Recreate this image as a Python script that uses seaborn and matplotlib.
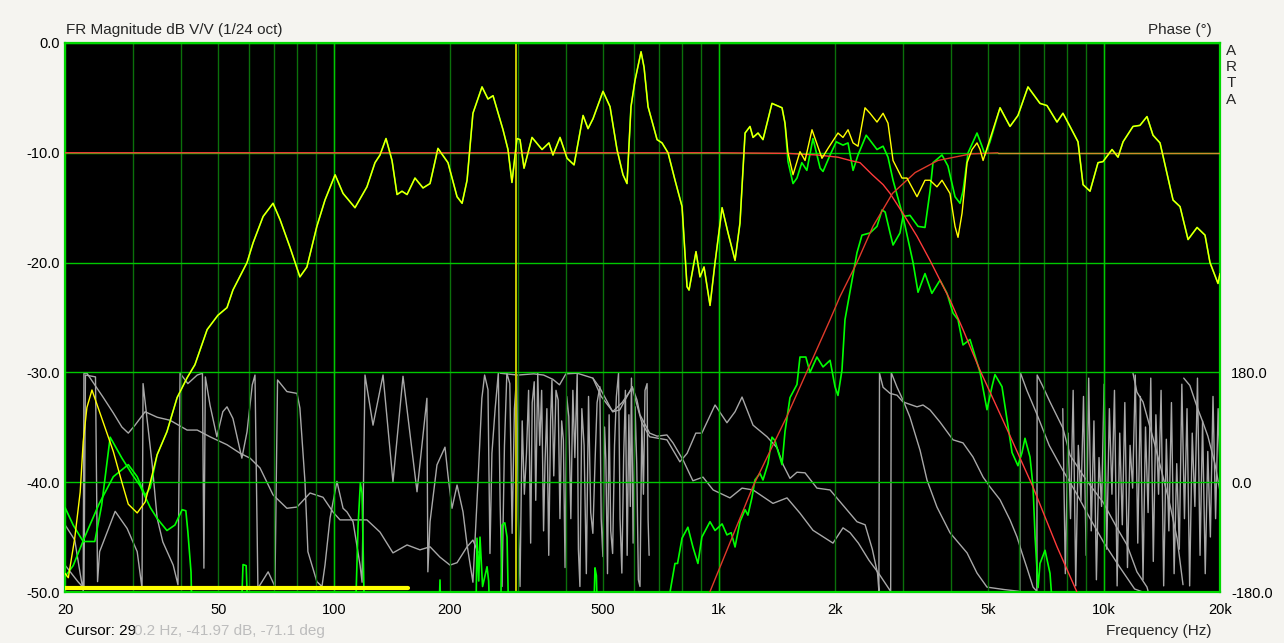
import numpy as np
import matplotlib
matplotlib.use('Agg')  # no display
import matplotlib.pyplot as plt
from matplotlib.ticker import LogLocator, NullFormatter
import seaborn as sns

sns.set_style('dark')
plt.rcParams['font.family'] = ['Liberation Sans', 'DejaVu Sans']

# ---- magnitude data (dB) ----
# summed response (yellow)
fr_freq = [20, 20.4, 21.2, 21.9, 22.3, 22.8, 23.5, 25.1, 26.7, 28.1,
           29.2, 30.8, 32.3, 33.3, 34.7, 36.8, 39.1, 41.5, 43.5, 46.8,
           49.9, 52.7, 54.6, 59.4, 61.6, 65.4, 69.4, 72.4, 76.8, 81.5,
           85.0, 90.2, 94.7, 100.6, 105.5, 113.3, 121.7, 127.7, 131.6, 136.4,
           141.4, 145.7, 150.1, 154.7, 162.2, 170.2, 177.5, 186.1, 197.6, 208.6,
           215, 221.5, 229.4, 242.2, 251, 258.7, 274.6, 282.9, 289.7, 298.5,
           304, 311.4, 326.6, 346.8, 361.4, 370.2, 386.2, 402.8, 420, 443.3,
           456.6, 470.4, 499.4, 520.8, 543, 562.8, 576.5, 590.4, 604.8, 627,
           638.3, 653.8, 690, 710.9, 736.8, 768.3, 801.3, 825.5, 835.4, 871,
           892, 913.8, 947.2, 976, 1018, 1055, 1100, 1133, 1168, 1203,
           1225, 1262, 1300, 1372, 1457, 1483, 1510, 1556, 1622, 1672,
           1743, 1850, 1918, 2036, 2098, 2162, 2228, 2295, 2393, 2466,
           2571, 2666, 2746, 2830, 2985, 3076, 3266, 3426, 3530, 3680,
           3793, 3978, 4100, 4174, 4276, 4406, 4540, 4676, 4762, 4849,
           4995, 5366, 5696, 5974, 6342, 6815, 7106, 7545, 7819, 8155,
           8555, 8817, 9192, 9642, 9936, 10486, 10869, 11200, 11886, 12394,
           12924, 13398, 13972, 15102, 15748, 16522, 17436, 18286, 18838, 19762,
           20000]
fr_db = [-48.3, -48.7, -45.1, -40.9, -36.3, -33.2, -31.6, -34.5, -37.2, -40.0,
         -42.0, -42.8, -41.8, -40.0, -37.5, -35.4, -32.3, -30.5, -29.3, -26.1,
         -24.8, -24.1, -22.5, -20.0, -18.2, -15.8, -14.6, -16.1, -18.6, -21.3,
         -20.4, -16.7, -14.3, -12.0, -13.7, -15.0, -13.1, -10.9, -10.2, -8.7,
         -10.7, -13.8, -13.5, -13.8, -12.3, -13.2, -12.8, -9.6, -10.9, -14.0,
         -14.6, -12.5, -6.4, -4.0, -5.1, -4.8, -7.9, -9.7, -12.7, -8.7,
         -8.8, -11.4, -8.6, -9.7, -9.1, -10.2, -8.6, -10.5, -11.1, -6.6,
         -7.8, -6.9, -4.4, -5.8, -9.7, -12.0, -12.8, -5.8, -3.4, -0.8,
         -2.2, -5.8, -8.8, -9.1, -10.0, -12.5, -14.9, -22.2, -22.5, -19.0,
         -21.3, -20.4, -23.9, -20.0, -15.0, -17.3, -19.8, -16.4, -8.2, -7.6,
         -8.6, -8.2, -8.8, -5.5, -5.9, -7.3, -10.0, -12.0, -9.9, -10.7,
         -7.9, -10.5, -9.6, -8.2, -8.6, -7.9, -9.1, -9.4, -5.9, -6.4,
         -7.2, -6.4, -7.3, -10.7, -12.3, -12.3, -14.0, -12.5, -12.5, -13.1,
         -12.5, -13.7, -16.7, -17.7, -15.5, -10.9, -9.7, -9.1, -9.7, -10.7,
         -9.3, -5.9, -7.6, -6.6, -4.0, -5.5, -5.7, -7.2, -6.4, -7.6,
         -9.0, -12.9, -13.5, -10.9, -10.8, -9.7, -10.4, -9.0, -7.6, -7.5,
         -6.7, -8.4, -9.1, -14.3, -14.9, -17.9, -16.8, -17.5, -20.0, -21.9,
         -21.0]

# woofer (green): own low end, then same as sum, then roll-off
wf_low_freq = [20, 21.0, 22.5, 24.5, 26.7, 29.2, 30.8, 32.3, 33.3]
wf_low_db = [-48.6, -47.6, -45.0, -42.0, -39.5, -38.4, -39.5, -41.2, -40.5]
wf_hi_freq = [1510, 1556, 1593, 1640, 1690, 1753, 1830, 1862, 1942, 2015,
              2098, 2162, 2228, 2295, 2410, 2571, 2666, 2746, 2830, 3004,
              3190, 3286, 3426, 3570, 3748, 3908, 4051, 4174, 4300, 4484,
              4762, 4964, 5114, 5206, 5430, 5596, 5766, 5974, 6120, 6230,
              6420, 6538, 6618, 6738, 6815, 7024, 7236, 7400]
wf_hi_db = [-10.8, -12.8, -12.3, -10.9, -11.6, -8.7, -11.4, -11.7, -10.2, -9.0,
            -9.3, -9.1, -11.6, -10.2, -8.4, -9.7, -9.4, -10.4, -12.5, -15.8,
            -20.0, -22.7, -21.0, -22.8, -21.6, -22.8, -24.6, -25.2, -27.5, -27.0,
            -30.0, -33.4, -31.3, -30.2, -31.3, -34.3, -37.3, -38.5, -37.3, -36.0,
            -37.7, -40.4, -45.0, -49.6, -47.4, -46.2, -48.3, -53.0]

# tweeter (green): low-frequency junk, rise through crossover, then same as sum
tw_lf_freq = [20, 21.0, 22.3, 23.9, 24.9, 26.2, 28.1, 29.9, 31.3, 33.3,
              34.7, 36.8, 38.6, 40.3, 41.2, 41.7, 42.5, 42.9, 57.0, 58.0,
              59.1, 60.1, 113.0, 115.4, 117.0, 118.2, 120.3, 186.0, 188.4, 190.0,
              233.0, 235.0, 237.5, 239.3, 243.0, 249.6, 252.0, 255.0, 270.0, 273.0,
              277.6, 281.3, 285.0, 470.0, 476.0, 480.0, 485.0]
tw_lf_db = [-42.3, -43.9, -45.4, -45.4, -42.1, -35.9, -37.8, -39.3, -40.3, -42.3,
            -43.3, -44.4, -43.9, -42.5, -42.6, -44.5, -48.2, -55, -55, -47.5,
            -47.6, -55, -55, -44.0, -40.1, -41.0, -55, -55, -48.9, -55,
            -55, -45.1, -49.0, -45.0, -49.5, -47.7, -49, -55, -55, -43.9,
            -43.7, -45.0, -55, -55, -47.8, -48.5, -55]
tw_rise_freq = [730, 745.7, 768, 780, 801, 829.8, 855, 881, 902, 947,
                976, 1018, 1048, 1075, 1100, 1133, 1168, 1188, 1217, 1239,
                1277, 1300, 1340, 1372, 1397, 1423, 1457, 1483, 1528, 1593,
                1622, 1680, 1722, 1795, 1862, 1942, 2000, 2036, 2085, 2123,
                2281, 2350, 2466, 2571, 2650, 2700, 2780, 2830, 2950, 3004,
                3132, 3286, 3426, 3530, 3594, 3793, 3930, 4100, 4224, 4300,
                4433, 4676, 4818, 4906, 5054]
tw_rise_db = [-55, -50, -47.4, -47.4, -45.1, -44.1, -45.9, -47.4, -45.0, -43.6,
              -44.4, -43.8, -44.8, -44.6, -45.9, -43.6, -42.5, -43.0, -41.4, -39.8,
              -39.2, -39.8, -38.3, -35.9, -36.2, -37.2, -38.4, -35.4, -32.3, -31.1,
              -28.6, -28.6, -30.0, -28.6, -29.5, -28.9, -31.3, -32.1, -29.8, -25.2,
              -19.1, -17.5, -17.3, -16.7, -15.2, -15.4, -17.3, -18.4, -17.3, -15.8,
              -15.7, -16.7, -16.8, -13.5, -10.9, -10.2, -11.2, -14.0, -14.6, -13.5,
              -10.0, -8.2, -9.4, -10.2, -9.0]

# crossover targets (red)
lp_freq = [20, 1000, 1500, 1800, 2036, 2190, 2323, 2500, 2667, 2780,
           3000, 3266, 3530, 3980, 4300, 4760, 5600, 6530, 7550, 8500, 9000]
lp_db = [-10, -10, -10.05, -10.2, -10.4, -10.7, -10.9, -12.0, -12.9, -13.7,
         -15.5, -17.6, -19.8, -23.4, -26.1, -29.8, -35.2, -40.4, -45.9, -50, -52]
hp_freq = [900, 946, 1224, 1500, 1942, 2060, 2280, 2510, 2820, 3230, 3700, 4500, 5300]
hp_db = [-52, -50, -40.4, -34, -25.2, -23.1, -20, -16.7, -13.7, -11.8, -10.7, -10.1, -10.0]
hp_flat_freq = [5300, 20000]
hp_flat_db = [-10, -10]

# averaging-range bar and cursor
bar_freq = [20, 156]
bar_db = [-49.6, -49.6]
cursor_freq = 297

# ---- phase data (deg) ----
pha_freq = [20, 21.2, 21.9, 22.3, 22.4, 22.8, 23.6, 25.1, 26.7, 28.1,
            29.2, 30.4, 32.3, 34.7, 37.5, 41.5, 44.1, 47.6, 52.7, 57.0,
            60.5, 64.2, 69.4, 75.4, 80.1, 86.6, 93.6, 99.3, 103.6, 114.7,
            121.7, 131.6, 142.2, 154.7, 167.1, 177.5, 188.4, 200, 208.6, 221.5,
            229.4, 236.4]
pha_deg = [-70, -95, -150, -178, 178, 178, 164, 139, 113, 90,
           80, 93, 115, 106, 101, 85, 85, 74, 61, 47,
           39, 23, -21, -43, -41, -18, -25, -49, -62, -62,
           -62, -82, -116, -103, -111, -106, -123, -136, -132, -106,
           -95, -115]

# tweeter phase, noisy below ~650 Hz
pht_freq = [20, 21.6, 22.4, 22.6, 24.0, 24.3, 24.6, 27.0, 29.0, 30.8,
            31.7, 31.9, 32.6, 33.7, 34.7, 35.9, 38.2, 39.3, 39.8, 41.7,
            44.1, 45.5, 45.9, 46.3, 47.6, 49.6, 51.4, 52.7, 54.6, 57.6,
            59.4, 61.3, 62.3, 63.4, 67.4, 70.2, 71.3, 75.4, 80.1, 81.5,
            84.0, 85.5, 90.2, 93.0, 94.7, 97.6, 101.7, 105.5, 108, 112,
            116.8, 118.2, 120.3, 126.2, 134, 142.2, 151, 164.2, 174.2, 175.2,
            177.5, 185, 194.1, 197.6, 202.4, 208.6, 216.2, 221.5, 229.4, 236.4,
            242, 246, 251, 254, 257, 262, 267, 270, 273, 277,
            281, 286, 290, 294, 298, 301, 304, 308, 312, 316,
            320, 324, 327, 331, 334, 338, 342, 346, 350, 353,
            357, 361, 365, 368, 372, 377, 382, 386, 390, 394,
            398, 402, 407, 412, 417, 422, 428, 431, 435, 440,
            446, 452, 458, 464, 470, 476, 482, 490, 494, 499,
            504, 508, 513, 518, 523, 529, 535, 541, 548, 553,
            559, 565, 571, 577, 583, 588, 592, 598, 605, 611,
            617, 623, 630, 636, 642, 650, 654, 658]
pht_deg = [-136, -163, -174, 175, 172, -163, -114, -48, -76, -114,
           -174, 161, 109, 28, -59, -98, -136, -168, 178, 161,
           175, 178, -141, 172, 126, 74, 115, 123, 104, 39,
           82, 159, 175, -174, -147, -171, 167, 148, 145, 121,
           1, -114, -163, -171, -136, -59, 1, -43, -49, -65,
           -136, -164, 175, 93, 175, 0, 173, -16, 137, -147,
           -65, 28, 57, 11, -43, -5, -49, -103, -164, 0,
           137, 175, 151, -117, 47, 120, 178, -40, -171, 60,
           178, 161, -84, 120, 175, -60, -171, 100, -20, 47,
           150, -100, 130, 164, -30, 178, 60, 150, -80, 31,
           120, -120, 100, 167, 10, 150, 134, -60, 100, 69,
           -140, 140, 107, -60, 150, 40, 178, -110, -171, 120,
           60, -150, 140, -50, -84, 30, 130, 156, -60, -122,
           90, 36, -150, 110, -80, -117, 60, 140, 178, -60,
           -149, 40, 150, -120, 110, -40, 170, -100, 123, 30,
           -160, -171, 100, -20, 150, 161, -62, -120]

# two smooth phase traces through the crossover
php_freq = [470, 490, 529, 560, 595, 630, 660, 732, 791, 826,
            870, 902, 976, 1048, 1100, 1147, 1225, 1332, 1414, 1467,
            1528, 1593, 1672, 1795, 1942, 2098, 2281, 2395, 2500, 2580,
            2600, 2610, 2666, 2780, 2899, 3004, 3266, 3385, 3530, 3748,
            4051, 4300, 4564, 4849, 5054, 5366, 5696, 5941, 6120, 6307,
            6538, 6690, 6700, 6900, 7236, 7819, 8155, 8817, 9192, 9936,
            10800, 11470, 12170, 12924, 13000]
php_deg = [170, 154, 115, 130, 154, 97, 74, 69, 33, 47,
           80, 80, 126, 97, 115, 139, 93, 74, 56, 28,
           6, 16, 15, -10, -13, -38, -65, -70, -110, -150,
           -178, 178, 155, 145, 142, 131, 123, 126, 118, 98,
           69, 64, 41, 8, -8, -29, -62, -90, -116, -141,
           -172, -179, 175, 159, 131, 88, 44, 11, -5, -33,
           -75, -103, -147, -172, -178]
phq_freq = [270, 300, 330, 350, 370, 385, 400, 428, 470, 494,
            530, 552, 595, 612, 623, 660, 690, 732, 759, 806,
            855, 908, 965, 1067, 1147, 1225, 1380, 1501, 1622, 1753,
            1976, 2098, 2189, 2300, 2450, 2600, 2790, 2800, 2899, 3004,
            3132, 3326, 3468, 3680, 3978, 4406, 4676, 4964, 5500, 6040,
            6060, 6300, 6700, 7200, 7800, 8500, 9200, 10000, 11000, 12000,
            12600]
phq_deg = [178, 175, 177, 175, 168, 159, 177, 178, 170, 140,
           115, 118, 156, 134, 110, 80, 75, 77, 64, 36,
           2, 8, -13, -26, -10, -13, -35, -26, -51, -79,
           -100, -75, -83, -100, -128, -150, -179, 179, 155, 134,
           106, 52, 3, -41, -83, -116, -149, -172, -176, -179,
           179, 150, 110, 60, 20, -20, -60, -100, -140, -175,
           -180]
phs_freq = [11886, 12170, 12620, 13398, 13972, 14835, 15470, 16030]
phs_deg = [178, 147, 131, 72, 28, -38, -92, -168]
phs2_freq = [16100, 16700, 17500, 18000, 18600, 19400, 20000]
phs2_deg = [170, 158, 120, 100, 75, 30, -15]

# woofer phase, noisy above ~8 kHz
phw_freq = [7810, 7930, 8060, 8180, 8310, 8440, 8570, 8710, 8840, 8980,
            9120, 9260, 9410, 9550, 9700, 9850, 10000, 10160, 10320, 10480,
            10640, 10810, 10980, 11150, 11320, 11500, 11680, 11860, 12050, 12230,
            12420, 12620, 12810, 13010, 13220, 13420, 13630, 13850, 14060, 14280,
            14510, 14730, 14960, 15200, 15440, 15680, 15920, 16170, 16420, 16680,
            16940, 17210, 17480, 17750, 18020, 18310, 18590, 18880, 19180, 19480,
            19780, 20000]
phw_deg = [120, -150, 80, -60, 150, -170, 60, -30, 140, -120,
           170, -80, 100, -160, 40, -40, 160, -110, 120, -20,
           150, -170, 80, -70, 130, -140, 60, -10, 175, -100,
           140, -160, 90, -50, 170, -130, 110, -20, 150, -170,
           70, -80, 130, -150, 30, -110, 160, -60, 120, -170,
           80, -40, 170, -120, 100, -150, 50, -90, 140, -60,
           120, 20]

xtick_vals = [20, 50, 100, 200, 500, 1000, 2000, 5000, 10000, 20000]
xtick_text = ['20', '50', '100', '200', '500', '1k', '2k', '5k', '10k', '20k']
ytick_vals = [0, -10, -20, -30, -40, -50]
phase_ticks = [-180, 0, 180]

# assemble the driver curves from the pieces above
fr_f = np.array(fr_freq)
fr_d = np.array(fr_db)
mid = (fr_f > 33.3) & (fr_f <= 1483)
wf_f = np.concatenate([wf_low_freq, fr_f[mid], wf_hi_freq])
wf_d = np.concatenate([wf_low_db, fr_d[mid], wf_hi_db])
hi = fr_f > 5054
tw_f = np.concatenate([tw_lf_freq, tw_rise_freq, fr_f[hi]])
tw_d = np.concatenate([tw_lf_db, tw_rise_db, fr_d[hi]])

# ---- figure ----
BG = '#f5f4f0'
GRID_HI = '#00c800'
GRID_LO = '#0b700b'
GRAY = '#a8a8a8'

fig = plt.figure(figsize=(12.84, 6.43), dpi=100, facecolor=BG)
ax = fig.add_axes([65 / 1284, 1 - 592 / 643, 1155 / 1284, 549 / 643])
ax2 = ax.twinx()
ax.set_zorder(2)
ax2.set_zorder(1)
ax.patch.set_visible(False)
ax2.patch.set_visible(True)
ax2.set_facecolor('black')

line_kw = dict(estimator=None, sort=False, legend=False)

# phase traces (right axis, behind)
for f, d in [(pha_freq, pha_deg), (pht_freq, pht_deg), (php_freq, php_deg),
             (phq_freq, phq_deg), (phs_freq, phs_deg), (phs2_freq, phs2_deg),
             (phw_freq, phw_deg)]:
    sns.lineplot(x=f, y=d, ax=ax2, color=GRAY, linewidth=1.0, **line_kw)

# magnitude traces
sns.lineplot(x=wf_f, y=wf_d, ax=ax, color='#00ff00', linewidth=1.2, zorder=3, **line_kw)
sns.lineplot(x=tw_f, y=tw_d, ax=ax, color='#00ff00', linewidth=1.2, zorder=3, **line_kw)
sns.lineplot(x=lp_freq, y=lp_db, ax=ax, color='#ff3a3a', linewidth=1.0, zorder=4, **line_kw)
sns.lineplot(x=hp_freq, y=hp_db, ax=ax, color='#e03a2a', linewidth=1.0, zorder=4, **line_kw)
sns.lineplot(x=hp_flat_freq, y=hp_flat_db, ax=ax, color='#d08a2a', linewidth=1.0, zorder=4, **line_kw)
sns.lineplot(x=fr_freq, y=fr_db, ax=ax, color='#ffff00', linewidth=1.0, zorder=5, **line_kw)
sns.lineplot(x=bar_freq, y=bar_db, ax=ax, color='#ffff00', linewidth=3.0, zorder=5, **line_kw)
ax.axvline(cursor_freq, color='#c8c800', linewidth=1.4, zorder=2)

# axes / scales
for a in (ax, ax2):
    a.set_xscale('log')
    a.set_xlim(20, 20000)
ax.set_ylim(-50, 0)
ax2.set_ylim(-180, -180 + 549 / 220 * 360)

ax.set_xticks(xtick_vals, xtick_text)
ax.xaxis.set_minor_locator(LogLocator(base=10, subs=np.arange(2, 10), numticks=30))
ax.xaxis.set_minor_formatter(NullFormatter())
ax.set_yticks(ytick_vals, [f'{v:.1f}' for v in ytick_vals])
ax2.set_yticks(phase_ticks, [f'{v:.1f}' for v in phase_ticks])

ax.grid(False)
ax2.grid(False)
ax.set_axisbelow(True)
ax.grid(which='both', axis='x', color=GRID_LO, linewidth=1.0)
ax.grid(which='major', axis='y', color=GRID_HI, linewidth=1.0)
for dec in [100, 1000, 10000]:
    ax.axvline(dec, color=GRID_HI, linewidth=1.0, zorder=0.6)

ax.tick_params(axis='both', which='both', length=0, labelsize=10.5, colors='black')
ax.tick_params(axis='x', pad=8)
ax.tick_params(axis='y', pad=4)
ax2.tick_params(axis='y', length=0, labelsize=10.5, pad=8, colors='black')
ax.set_xlabel('')
ax.set_ylabel('')
ax2.set_ylabel('')

for s in ax.spines.values():
    s.set_color('#00d800')
    s.set_linewidth(1.6)
for s in ax2.spines.values():
    s.set_visible(False)

# texts
fig.text(66 / 1284, 1 - 30 / 643, 'FR Magnitude dB V/V (1/24 oct)', fontsize=11,
         ha='left', va='center')
fig.text(1212 / 1284, 1 - 30 / 643, 'Phase (°)', fontsize=11, ha='right', va='center')
fig.text(1231 / 1284, 1 - 44 / 643, 'A\nR\nT\nA', fontsize=11, ha='center', va='top',
         linespacing=1.2)
fig.text(1212 / 1284, 1 - 631 / 643, 'Frequency (Hz)', fontsize=11, ha='right', va='center')
# cursor readout: black part, then the faded grey remainder
fig.text(65 / 1284, 1 - 631 / 643, 'Cursor: 29', fontsize=11,
         ha='left', va='center', color='black')
fig.text(134 / 1284, 1 - 631 / 643, '0.2 Hz, -41.97 dB, -71.1 deg', fontsize=11,
         ha='left', va='center', color='#bdbdbd')

fig.savefig('out.png', dpi=100, facecolor=BG)
